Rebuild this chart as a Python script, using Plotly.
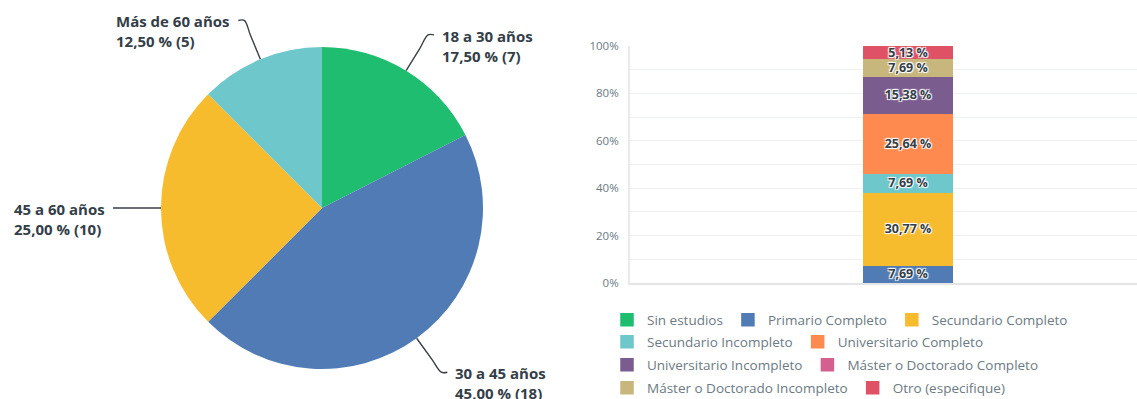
import math
import plotly.graph_objects as go

# ---------------- data ----------------
age_labels = ["18 a 30 años", "30 a 45 años", "45 a 60 años", "Más de 60 años"]
age_counts = [7, 18, 10, 5]
age_pcts = [17.50, 45.00, 25.00, 12.50]
age_colors = ["#1fbd6f", "#507bb4", "#f7bb2e", "#6dc7cb"]

edu_labels = ["Sin estudios", "Primario Completo", "Secundario Completo",
              "Secundario Incompleto", "Universitario Completo",
              "Universitario Incompleto", "Máster o Doctorado Completo",
              "Máster o Doctorado Incompleto", "Otro (especifique)"]
edu_values = [0.0, 7.69, 30.77, 7.69, 25.64, 15.38, 0.0, 7.69, 5.13]
edu_colors = ["#1fbd6f", "#507bb4", "#f7bb2e", "#6dc7cb", "#fe8a4f",
              "#7a5c8e", "#d4608f", "#c7b77d", "#df5266"]
legend_rows = [[0, 1, 2], [3, 4], [5, 6], [7, 8]]

y_ticks = [0, 0.2, 0.4, 0.6, 0.8, 1.0]
y_ticklabels = ["0%", "20%", "40%", "60%", "80%", "100%"]

# ---------------- layout constants ----------------
W, H = 1137, 399
CX, CY, R = 322, 208, 161          # pie centre / radius in pixels
LABEL_FONT = "'Open Sans', Lato, sans-serif"
DARK = "#333e48"

def fmt(v):
    return f"{v:.2f}".replace(".", ",")

fig = go.Figure()

# pie
fig.add_trace(go.Pie(
    labels=age_labels, values=age_counts, sort=False, direction="clockwise",
    rotation=0, marker=dict(colors=age_colors, line=dict(width=0)),
    textinfo="none", hoverinfo="skip", showlegend=False,
    domain=dict(x=[(CX - R) / W, (CX + R) / W],
                y=[(H - CY - R) / H, (H - CY + R) / H]),
))

# leader lines + labels (computed from slice angles)
annotations = []
total = sum(age_counts)
cum = 0
for lab, cnt, pct in zip(age_labels, age_counts, age_pcts):
    mid = (cum + cnt / 2) / total * 2 * math.pi
    cum += cnt
    dx, dy = math.sin(mid), -math.cos(mid)
    p0 = (CX + R * dx, CY + R * dy)
    pm = (CX + (R + 26) * dx, CY + (R + 26) * dy)
    p1 = (CX + (R + 42) * dx, CY + (R + 42) * dy)
    side = 1 if dx > 0.01 else -1
    p2 = (p1[0] + side * 6, p1[1])
    fig.add_trace(go.Scatter(
        x=[p0[0], pm[0], p1[0], p2[0]], y=[p0[1], pm[1], p1[1] + 0.001, p2[1]],
        mode="lines", line=dict(color="#3a3f44", width=1.4, shape="spline"),
        xaxis="x2", yaxis="y2", hoverinfo="skip", showlegend=False))
    annotations.append(dict(
        x=p2[0] + side * 6, y=p2[1] - 11, xref="x2", yref="y2",
        text=f"<b>{lab}<br>{fmt(pct)} % ({cnt})</b>", showarrow=False,
        xanchor="left" if side > 0 else "right", yanchor="top",
        align="left", font=dict(family=LABEL_FONT, size=15, color=DARK)))

# stacked bar
legend_of = {}
for r_i, row in enumerate(legend_rows):
    for i in row:
        legend_of[i] = "legend" if r_i == 0 else f"legend{r_i + 1}"

for i, (lab, val, col) in enumerate(zip(edu_labels, edu_values, edu_colors)):
    fig.add_trace(go.Bar(
        x=[0], y=[val / 100], width=0.985, name=lab,
        marker=dict(color=col, line=dict(width=1.5, color=col)),
        text=[f"{fmt(val)} %" if val > 0 else ""], textposition="inside",
        insidetextanchor="middle", constraintext="none",
        textfont=dict(family=LABEL_FONT, size=12.5, color=DARK, weight="bold",
                      shadow="1px 1px 1px #fff, -1px -1px 1px #fff, 1px -1px 1px #fff, -1px 1px 1px #fff"),
        hoverinfo="skip", legend=legend_of[i]))

PL, PB, PT = 630, 283, 46     # bar plot area pixel edges
BAR_C, BAR_W = 908, 89

legend_style = dict(orientation="h", xanchor="left", yanchor="middle",
                    font=dict(family=LABEL_FONT, size=13.5, color="#6b7a83"),
                    bgcolor="rgba(0,0,0,0)", traceorder="normal",
                    itemclick=False, itemdoubleclick=False)
row_y = [320, 342, 365, 388]
LX = 607 / W

fig.update_layout(
    width=W, height=H, margin=dict(l=0, r=0, t=0, b=0, autoexpand=False),
    paper_bgcolor="white", plot_bgcolor="rgba(0,0,0,0)",
    barmode="stack", uniformtext=dict(minsize=12.5, mode="show"),
    xaxis=dict(domain=[PL / W, 1], range=[-(BAR_C - PL) / BAR_W, (W - BAR_C) / BAR_W],
               showgrid=False, zeroline=False, showticklabels=False,
               showline=True, linecolor="#e3e5e6", linewidth=2, fixedrange=True),
    yaxis=dict(domain=[(H - PB) / H, (H - PT) / H], range=[0, 1],
               tickvals=y_ticks, ticktext=y_ticklabels,
               showgrid=True, gridcolor="#eef1f1", gridwidth=1,
               minor=dict(dtick=0.1, showgrid=True, gridcolor="#eef1f1"),
               zeroline=False, showline=True, linecolor="#e8eaeb", linewidth=2,
               ticks="", ticklabelstandoff=7,
               tickfont=dict(family=LABEL_FONT, size=11.5, color="#6b7a83"),
               fixedrange=True),
    xaxis2=dict(domain=[0, 1], range=[0, W], visible=False, anchor="y2", fixedrange=True),
    yaxis2=dict(domain=[0, 1], range=[H, 0], visible=False, anchor="x2", fixedrange=True),
    annotations=annotations,
    legend=dict(x=LX, y=(H - row_y[0]) / H, **legend_style),
    legend2=dict(x=LX, y=(H - row_y[1]) / H, **legend_style),
    legend3=dict(x=LX, y=(H - row_y[2]) / H, **legend_style),
    legend4=dict(x=LX, y=(H - row_y[3]) / H, **legend_style),
    showlegend=True,
)

fig.write_html("out.html")
